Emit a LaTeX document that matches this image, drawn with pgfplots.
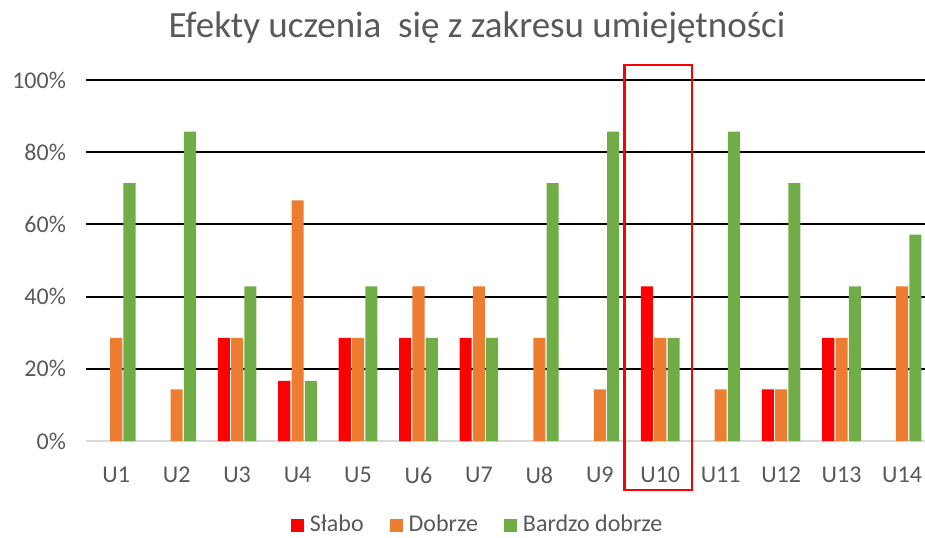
\documentclass[border=0pt]{standalone}
\usepackage{pgfplots}
\pgfplotsset{compat=1.18}
\usepackage{fontspec}
\setmainfont{Carlito}
\definecolor{cS}{HTML}{FF0000}
\definecolor{cD}{HTML}{ED7D31}
\definecolor{cB}{HTML}{70AD47}
\definecolor{txt}{HTML}{595959}
\begin{document}
\begin{tikzpicture}
\begin{axis}[
  at={(0pt,0pt)}, anchor=south west,
  scale only axis, width=419.5pt, height=180.5pt,
  xmin=0.5, xmax=14.38, ymin=0, ymax=100,
  clip=false,
  axis line style={draw=none},
  major tick length=0pt,
  xtick={1,...,14},
  xticklabels={U1,U2,U3,U4,U5,U6,U7,U8,U9,U10,U11,U12,U13,U14},
  ytick={20,40,60,80,100},
  yticklabels={20\%,40\%,60\%,80\%,100\%},
  extra y ticks={0},
  extra y tick labels={0\%},
  extra y tick style={grid style={color=black!15, line width=1pt}},
  ymajorgrids,
  grid style={black, line width=1pt},
  tick label style={font=\fontsize{12}{14}\selectfont, text=txt},
  xticklabel style={yshift=-9.5pt},
  yticklabel style={xshift=-6.5pt},
  legend style={at={(rel axis cs:0.468,-0.233)}, anchor=center, draw=none,
    legend columns=3, font=\fontsize{12}{14}\selectfont, text=txt,
    /tikz/every even column/.append style={column sep=11pt}},
  legend image code/.code={\fill[#1] (0pt,-3.25pt) rectangle (6.5pt,3.25pt); \path (0pt,0pt) -- (7.5pt,0pt);},
]
\addplot[ybar, bar width=0.2, bar shift=-0.22, fill=cS, draw=none] coordinates {
(3,28.57) (4,16.67) (5,28.57) (6,28.57) (7,28.57) (10,42.86) (12,14.29) (13,28.57)};
\addlegendentry{Słabo}
\addplot[ybar, bar width=0.2, bar shift=0, fill=cD, draw=none] coordinates {
(1,28.57) (2,14.29) (3,28.57) (4,66.67) (5,28.57) (6,42.86) (7,42.86) (8,28.57) (9,14.29) (10,28.57) (11,14.29) (12,14.29) (13,28.57) (14,42.86)};
\addlegendentry{Dobrze}
\addplot[ybar, bar width=0.2, bar shift=0.22, fill=cB, draw=none] coordinates {
(1,71.43) (2,85.71) (3,42.86) (4,16.67) (5,42.86) (6,28.57) (7,28.57) (8,71.43) (9,85.71) (10,28.57) (11,85.71) (12,71.43) (13,42.86) (14,57.14)};
\addlegendentry{Bardzo dobrze}
\draw[cS, line width=1.1pt] (axis cs:9.41,-13.57) rectangle (axis cs:10.52,104.16);
\node[text=txt, font=\fontsize{18.5}{22}\selectfont] at ([yshift=26pt]rel axis cs:0.466,1) {Efekty uczenia\ \ się z zakresu umiejętności};
\end{axis}
\pgfresetboundingbox
\path (-43pt,-48pt) rectangle (419.5pt,220.5pt);
\end{tikzpicture}
\end{document}
